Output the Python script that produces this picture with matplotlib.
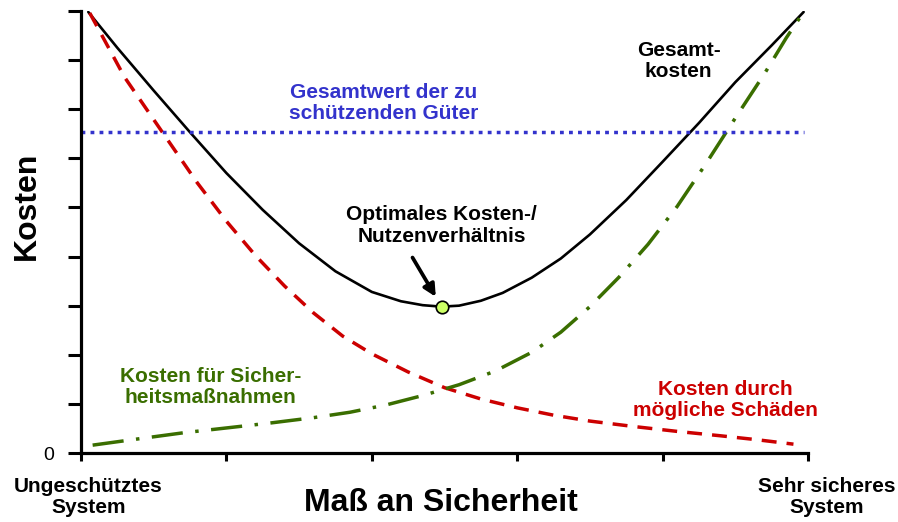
import matplotlib.pyplot as plt
import numpy as np

plt.rcParams['font.family'] = ['Liberation Sans', 'DejaVu Sans']

# readings from the reference picture (x: 0..5, y: 0..9)
schaden_x = [0.06, 0.3, 0.56, 0.8, 1.0, 1.2, 1.4, 1.6, 1.8, 2.0, 2.25, 2.5, 2.75,
             3.0, 3.25, 3.5, 3.8, 4.1, 4.4, 4.65, 4.9]
schaden_y = [8.96, 7.65, 6.53, 5.50, 4.72, 4.02, 3.40, 2.85, 2.38, 2.02, 1.65, 1.33, 1.10,
             0.92, 0.77, 0.65, 0.54, 0.44, 0.35, 0.27, 0.18]

massn_x = [0.08, 0.4, 0.7, 1.0, 1.3, 1.6, 1.85, 2.1, 2.35, 2.6, 2.85, 3.1, 3.3,
           3.5, 3.7, 3.9, 4.1, 4.3, 4.5, 4.7, 4.85, 4.97]
massn_y = [0.16, 0.29, 0.41, 0.51, 0.61, 0.72, 0.83, 0.98, 1.17, 1.39, 1.67, 2.05, 2.46,
           2.98, 3.58, 4.25, 5.02, 5.90, 6.82, 7.72, 8.45, 8.98]

gesamt_x = [0.05, 0.25, 0.5, 0.75, 1.0, 1.25, 1.5, 1.75, 2.0, 2.2, 2.35, 2.48, 2.6,
            2.75, 2.9, 3.1, 3.3, 3.5, 3.75, 4.0, 4.25, 4.5, 4.75, 4.97]
gesamt_y = [8.98, 8.25, 7.38, 6.53, 5.70, 4.95, 4.27, 3.70, 3.28, 3.09, 3.01, 2.98, 3.00,
            3.10, 3.26, 3.57, 3.96, 4.45, 5.15, 5.93, 6.72, 7.55, 8.30, 8.98]

gueter_wert = 6.53
optimum = (2.48, 2.98)

x_ticks = [0, 1, 2, 3, 4, 5]
y_ticks = list(range(10))
y_ticklabels = ['0'] + [''] * 9

red = '#cc0000'
green = '#3a6e00'
blue = '#3333cc'

fig = plt.figure(figsize=(8.98, 5.22), dpi=100)
ax = fig.add_axes([81 / 898, 1 - 453 / 522, 727 / 898, 442 / 522])

ax.plot(gesamt_x, gesamt_y, color='black', lw=1.9, solid_joinstyle='round',
        solid_capstyle='round')
ax.plot(schaden_x, schaden_y, color=red, lw=2.5, dashes=(4.3, 2.9))
ax.plot(massn_x, massn_y, color=green, lw=2.5, dashes=(9, 3.6, 1, 3.6))
ax.plot([0, 4.97], [gueter_wert, gueter_wert], color=blue, lw=2.5, dashes=(1.1, 1.5))

ax.annotate('', xy=(2.44, 3.18), xytext=(2.28, 3.98),
            arrowprops=dict(arrowstyle='-|>', color='black', lw=2.7, mutation_scale=18,
                            shrinkA=0, shrinkB=0))
ax.plot([optimum[0]], [optimum[1]], 'o', ms=9, mfc='#ccff66', mec='black', mew=1.2, zorder=5)

ax.set_xlim(0, 5)
ax.set_ylim(0, 9)
for s in ['top', 'right']:
    ax.spines[s].set_visible(False)
for s in ['left', 'bottom']:
    ax.spines[s].set_linewidth(2.3)
ax.set_xticks(x_ticks)
ax.set_xticklabels([''] * len(x_ticks))
ax.set_yticks(y_ticks)
ax.set_yticklabels(y_ticklabels, fontsize=14)
ax.tick_params(axis='y', direction='out', length=9.5, width=2.2, pad=10)
ax.tick_params(axis='x', direction='out', length=6, width=2.2)

bold = dict(fontsize=15, fontweight='bold', ha='center', va='center', linespacing=1.15)
ax.text(2.08, 7.12, 'Gesamtwert der zu\nschützenden Güter', color=blue, **bold)
ax.text(4.11, 7.98, 'Gesamt-\nkosten', color='black', **bold)
ax.text(2.48, 4.63, 'Optimales Kosten-/\nNutzenverhältnis', color='black', **bold)
ax.text(0.89, 1.35, 'Kosten für Sicher-\nheitsmaßnahmen', color=green, **bold)
ax.text(4.43, 1.08, 'Kosten durch\nmögliche Schäden', color=red, **bold)
ax.text(0.05, -0.90, 'Ungeschütztes\nSystem', clip_on=False, **bold)
ax.text(5.13, -0.90, 'Sehr sicheres\nSystem', clip_on=False, **bold)

fig.text(441 / 898, 1 - 503 / 522, 'Maß an Sicherheit', fontsize=23, fontweight='bold',
         ha='center', va='center')
fig.text(27 / 898, 1 - 206 / 522, 'Kosten', fontsize=23, fontweight='bold',
         ha='center', va='center', rotation=90)

fig.savefig('out.png', dpi=100)
